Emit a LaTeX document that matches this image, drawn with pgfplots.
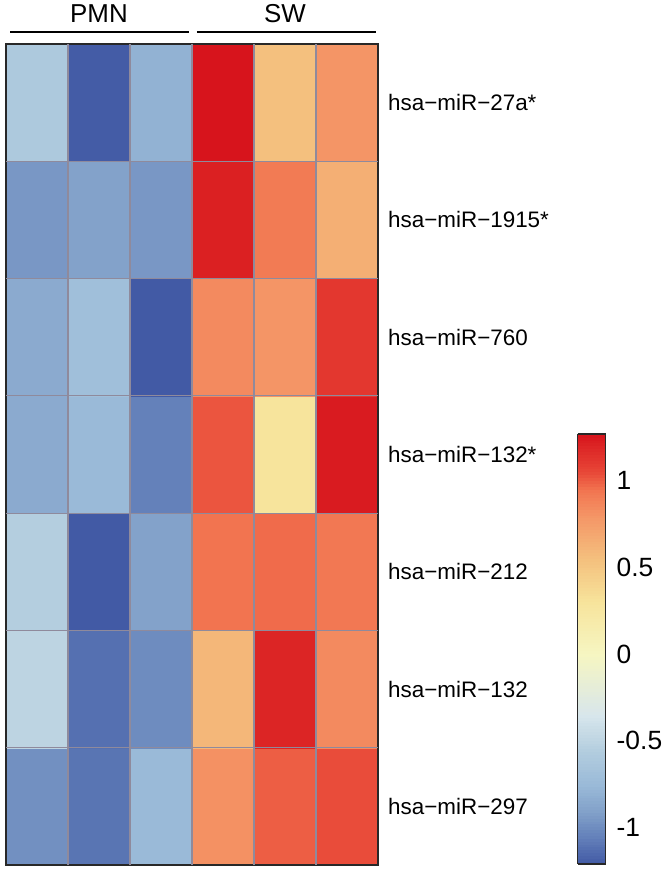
\documentclass[border=0pt]{standalone}
\usepackage{fontspec}
\setmainfont{Liberation Sans}
\usepackage{pgfplots}
\pgfplotsset{compat=1.18}
\definecolor{cellgrey}{RGB}{143,138,156}
\definecolor{frame}{RGB}{40,40,40}
\begin{document}
\begin{tikzpicture}
\path[use as bounding box] (0,0) rectangle (672bp,872bp);
\begin{axis}[
  at={(6bp,7bp)}, anchor=south west,
  scale only axis, width=372bp, height=821bp,
  xmin=-0.5, xmax=5.5, ymin=-0.5, ymax=6.5,
  enlargelimits=false, clip=false, axis on top,
  colormap={heat}{
    rgb255(0pt)=(66,90,165)
    rgb255(16pt)=(100,129,186)
    rgb255(31pt)=(131,162,202)
    rgb255(46pt)=(154,186,216)
    rgb255(66pt)=(180,206,223)
    rgb255(86pt)=(216,230,236)
    rgb255(121pt)=(246,246,194)
    rgb255(151pt)=(247,228,156)
    rgb255(176pt)=(244,192,126)
    rgb255(201pt)=(244,149,102)
    rgb255(216pt)=(242,116,80)
    rgb255(226pt)=(232,72,56)
    rgb255(248pt)=(215,20,28)
  },
  point meta min=-1.21, point meta max=1.27,
  xtick=\empty,
  ytick={0,1,2,3,4,5,6},
  yticklabels={hsa−miR−297,hsa−miR−132,hsa−miR−212,hsa−miR−132*,hsa−miR−760,hsa−miR−1915*,hsa−miR−27a*},
  yticklabel pos=right,
  yticklabel style={anchor=west, inner sep=0pt, xshift=10bp, font=\fontsize{22.5}{26}\selectfont},
  major tick length=0pt,
  extra x ticks={0.5,1.5,2.5,3.5,4.5},
  extra y ticks={0.5,1.5,2.5,3.5,4.5,5.5},
  extra x tick labels={},
  extra y tick labels={},
  extra tick style={grid=major, major tick length=0pt},
  major grid style={color=cellgrey, line width=1.1bp},
  axis line style={color=frame, line width=1.5bp},
  colorbar sampled,
  colorbar style={
    at={(parent axis.south east)}, anchor=south west,
    xshift=191bp, yshift=1bp,
    width=28bp, height=430bp,
    samples=150,
    extra x ticks={}, extra y ticks={},
    ytick={-1,-0.5,0,0.5,1},
    yticklabels={{-1},{-0.5},{0},{0.5},{1}},
    yticklabel style={font=\fontsize{26.5}{30}\selectfont, inner sep=0pt, anchor=west, xshift=11bp},
    major tick length=0pt,
    axis line style={color=frame, line width=1.3bp},
  },
]
\addplot[matrix plot*, mesh/cols=6, point meta=explicit] table[meta=c] {
x y c
0 0 -0.98
1 0 -1.10
2 0 -0.75
3 0 0.82
4 0 1.00
5 0 1.04
0 1 -0.50
1 1 -1.12
2 1 -1.00
3 1 0.60
4 1 1.20
5 1 0.85
0 2 -0.55
1 2 -1.21
2 2 -0.90
3 2 0.95
4 2 0.97
5 2 0.93
0 3 -0.85
1 3 -0.75
2 3 -1.05
3 3 1.02
4 3 0.30
5 3 1.24
0 4 -0.85
1 4 -0.70
2 4 -1.21
3 4 0.85
4 4 0.80
5 4 1.12
0 5 -0.95
1 5 -0.90
2 5 -0.95
3 5 1.22
4 5 0.92
5 5 0.65
0 6 -0.60
1 6 -1.20
2 6 -0.80
3 6 1.27
4 6 0.55
5 6 0.80
};
\draw[line width=2bp, black] (axis cs:-0.435,6.602) -- (axis cs:2.452,6.602);
\draw[line width=2bp, black] (axis cs:2.58,6.602) -- (axis cs:5.468,6.602);
\node[font=\fontsize{26}{30}\selectfont, inner sep=0pt] at (axis cs:1,6.76) {PMN};
\node[font=\fontsize{26}{30}\selectfont, inner sep=0pt] at (axis cs:4,6.76) {SW};
\end{axis}
\end{tikzpicture}
\end{document}
